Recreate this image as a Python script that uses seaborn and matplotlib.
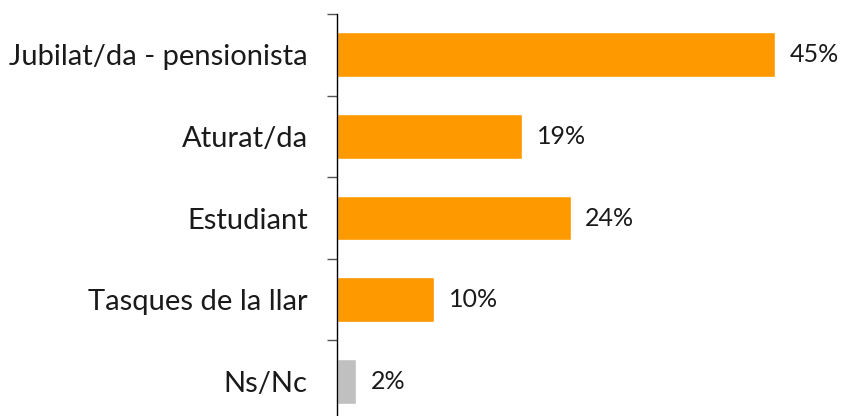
import matplotlib
matplotlib.use("Agg")
import matplotlib.pyplot as plt
import seaborn as sns
import pandas as pd
from matplotlib.ticker import FixedLocator

# Datos del gráfico
categories = ["Jubilat/da - pensionista", "Aturat/da", "Estudiant",
              "Tasques de la llar", "Ns/Nc"]
values = [45, 19, 24, 10, 2]
labels = ["45%", "19%", "24%", "10%", "2%"]
colors = ["#FF9900", "#FF9900", "#FF9900", "#FF9900", "#C0C0C0"]

sns.set_theme(style="white")
plt.rcParams["font.family"] = ["Lato", "DejaVu Sans"]

df = pd.DataFrame({"cat": categories, "val": values})

fig = plt.figure(figsize=(8.41, 4.16), dpi=100)
ax = fig.add_axes([337 / 841, -6 / 416, 504 / 841, 408 / 416])

sns.barplot(data=df, x="val", y="cat", hue="cat", palette=colors,
            legend=False, width=0.55, saturation=1, ax=ax)

ax.set_xlim(0, 51.8)
ax.set_ylim(len(categories) - 0.5, -0.5)
ax.set_xlabel("")
ax.set_ylabel("")
ax.set_xticks([])

for s in ["top", "right", "bottom"]:
    ax.spines[s].set_visible(False)
ax.spines["left"].set_color("black")
ax.spines["left"].set_linewidth(1.0)

# etiquetas de categoria sense marca, marques entre categories
ax.tick_params(axis="y", which="major", length=0, pad=21, labelsize=21,
               labelcolor="#1a1a1a")
ax.yaxis.set_minor_locator(FixedLocator([i - 0.5 for i in range(len(categories) + 1)]))
ax.tick_params(axis="y", which="minor", length=7, width=1, color="#555555", left=True)

for i, (v, t) in enumerate(zip(values, labels)):
    ax.text(v + 1.5, i, t, va="center", ha="left", fontsize=18, color="#1a1a1a")

fig.savefig("out.png", dpi=100)
